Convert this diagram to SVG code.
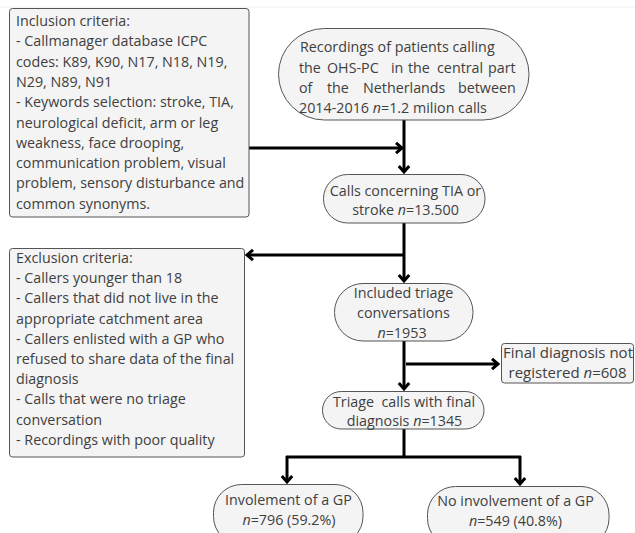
<svg xmlns="http://www.w3.org/2000/svg" width="635" height="533" viewBox="0 0 635 533">
<defs>
<style>
.box{fill:#f4f4f4;stroke:#555;stroke-width:1}
.t{font-family:"Open Sans","DejaVu Sans",sans-serif;font-size:14.3px;fill:#404040}
.m{text-anchor:middle}
.i{font-style:italic}
.c{fill:none;stroke:#000;stroke-width:3}
</style>
<marker id="ah" markerUnits="userSpaceOnUse" markerWidth="14" markerHeight="14" viewBox="0 0 14 14" refX="11" refY="7" orient="auto">
<path d="M5,1.8 L11,7 L5,12.2" fill="none" stroke="#000" stroke-width="3"/>
</marker>
</defs>
<rect width="635" height="533" fill="#fff"/>
<line x1="0" y1="7" x2="635" y2="7" stroke="#f0f0f0" stroke-width="1"/>

<g id="connectors">
<path class="c" d="M404,120 V172" marker-end="url(#ah)"/>
<path class="c" d="M249,148 H402" marker-end="url(#ah)"/>
<path class="c" d="M404,223 V281" marker-end="url(#ah)"/>
<path class="c" d="M404,255 H247" marker-end="url(#ah)"/>
<path class="c" d="M404,341 V389" marker-end="url(#ah)"/>
<path class="c" d="M406,364 H498" marker-end="url(#ah)"/>
<path class="c" d="M404,429 V457"/>
<path class="c" d="M286,457 H521"/>
<path class="c" d="M287,456 V482" marker-end="url(#ah)"/>
<path class="c" d="M520,456 V484" marker-end="url(#ah)"/>
</g>

<g id="inclusion">
<rect class="box" x="9.5" y="8.5" width="239.5" height="208.5" rx="3"/>
<text class="t" x="16" y="26">Inclusion criteria:</text>
<text class="t" x="16" y="46.3">- Callmanager database ICPC</text>
<text class="t" x="16" y="66.6">codes: K89, K90, N17, N18, N19,</text>
<text class="t" x="16" y="87">N29, N89, N91</text>
<text class="t" x="16" y="107.2">- Keywords selection: stroke, TIA,</text>
<text class="t" x="16" y="127.5">neurological deficit, arm or leg</text>
<text class="t" x="16" y="147.8">weakness, face drooping,</text>
<text class="t" x="16" y="168.1">communication problem, visual</text>
<text class="t" x="16" y="188.4">problem, sensory disturbance and</text>
<text class="t" x="16" y="208.7">common synonyms.</text>
</g>

<g id="recordings">
<rect class="box" x="278.5" y="28.5" width="250.5" height="91.5" rx="46" ry="46"/>
<text class="t" x="300" y="52">Recordings of patients calling</text>
<text class="t" y="72.5"><tspan x="299">the</tspan><tspan x="327">OHS-PC</tspan><tspan x="391">in</tspan><tspan x="408">the</tspan><tspan x="437">central</tspan><tspan x="488">part</tspan></text>
<text class="t" y="92.5"><tspan x="299">of</tspan><tspan x="327">the</tspan><tspan x="363">Netherlands</tspan><tspan x="458">between</tspan></text>
<text class="t" x="299" y="112.5">2014-2016 <tspan class="i">n</tspan>=1.2 milion calls</text>
</g>

<g id="calls">
<rect class="box" x="323.5" y="174.5" width="161.5" height="48.5" rx="24" ry="24"/>
<text class="t m" x="405.5" y="196">Calls concerning TIA or</text>
<text class="t m" x="405.5" y="215">stroke <tspan class="i">n</tspan>=13.500</text>
</g>

<g id="exclusion">
<rect class="box" x="9.5" y="248.5" width="235" height="208.5" rx="3"/>
<text class="t" x="16" y="263">Exclusion criteria:</text>
<text class="t" x="16" y="283.2">- Callers younger than 18</text>
<text class="t" x="16" y="303.4">- Callers that did not live in the</text>
<text class="t" x="16" y="323.6">appropriate catchment area</text>
<text class="t" x="16" y="343.8">- Callers enlisted with a GP who</text>
<text class="t" x="16" y="364">refused to share data of the final</text>
<text class="t" x="16" y="384.2">diagnosis</text>
<text class="t" x="16" y="404.4">- Calls that were no triage</text>
<text class="t" x="16" y="424.6">conversation</text>
<text class="t" x="16" y="444.8">- Recordings with poor quality</text>
</g>

<g id="included">
<rect class="box" x="334.5" y="283.5" width="138.5" height="57.5" rx="28.5" ry="28.5"/>
<text class="t m" x="403.5" y="297.5">Included triage</text>
<text class="t m" x="403.5" y="318">conversations</text>
<text class="t m" x="402" y="338"><tspan class="i">n</tspan>=1953</text>
</g>

<g id="notregistered">
<rect class="box" x="501.5" y="343.5" width="132" height="39.5" rx="3"/>
<text class="t m" x="568" y="357.5" style="font-size:15px">Final diagnosis not</text>
<text class="t m" x="567.5" y="377.5" style="font-size:15px">registered <tspan class="i">n</tspan>=608</text>
</g>

<g id="triage">
<rect class="box" x="322.5" y="391.5" width="161.5" height="37.5" rx="18.7" ry="18.7"/>
<text class="t m" x="404" y="406.5" xml:space="preserve">Triage  calls with final</text>
<text class="t m" x="404.5" y="426">diagnosis <tspan class="i">n</tspan>=1345</text>
</g>

<g id="involvement">
<rect class="box" x="213.5" y="484.5" width="149.5" height="60" rx="28" ry="28"/>
<text class="t m" x="288.5" y="504.5">Involement of a GP</text>
<text class="t m" x="289" y="525"><tspan class="i">n</tspan>=796 (59.2%)</text>
</g>

<g id="noinvolvement">
<rect class="box" x="427.5" y="486.5" width="181.5" height="60" rx="28" ry="28"/>
<text class="t m" x="515.5" y="505.5">No involvement of a GP</text>
<text class="t m" x="515.5" y="526"><tspan class="i">n</tspan>=549 (40.8%)</text>
</g>
</svg>
